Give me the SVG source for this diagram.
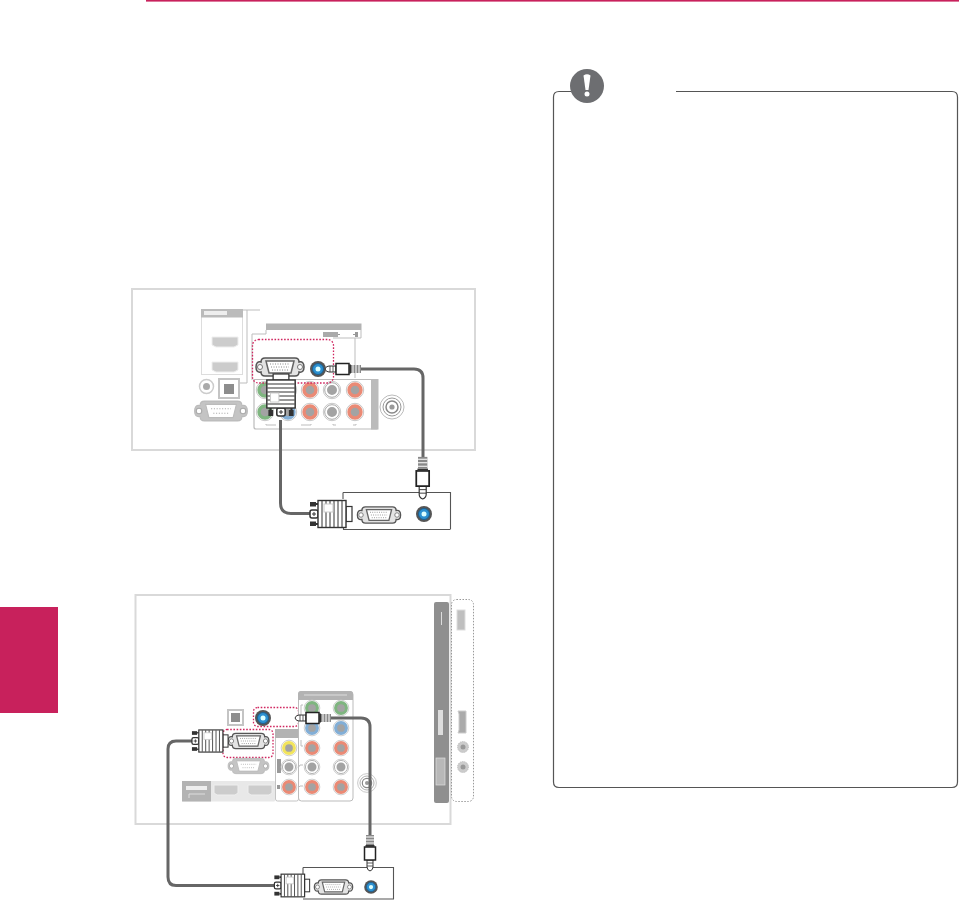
<svg xmlns="http://www.w3.org/2000/svg" width="959" height="900" viewBox="0 0 959 900">
<style>
.pan{fill:#fff;stroke:#d9d9d9;stroke-width:2}
.thin{fill:none;stroke:#bdbdbd;stroke-width:1}
.lt{fill:#fff;stroke:#c4c4c4;stroke-width:1.2}
.gh{fill:#b5b5b5}
.cable{fill:none;stroke:#666;stroke-width:3}
.pink{fill:none;stroke:#d0265f;stroke-width:1.3;stroke-dasharray:1.6 1.6}
.dash{fill:none;stroke:#999;stroke-width:1;stroke-dasharray:1.5 1.5}
.port{fill:#ccc;stroke:#eee;stroke-width:1}
</style>
<defs>
<g id="jack"><circle r="9" fill="#fff" stroke="#c8c8c8" stroke-width="1"/><circle r="6.5" class="jc" fill="none" stroke-width="3.6"/><circle r="2.6" fill="#999"/></g>
<g id="jg"><circle r="8.7" fill="#fff" stroke="#c8c8c8"/><circle r="6" fill="#a3a3a3" stroke="#7fb580" stroke-width="3.4"/></g>
<g id="jb"><circle r="8.7" fill="#fff" stroke="#c8c8c8"/><circle r="6" fill="#a3a3a3" stroke="#82aed6" stroke-width="3.4"/></g>
<g id="jr"><circle r="8.7" fill="#fff" stroke="#c8c8c8"/><circle r="6" fill="#a3a3a3" stroke="#ea8a75" stroke-width="3.4"/></g>
<g id="jw"><circle r="8.7" fill="#fff" stroke="#c8c8c8"/><circle r="6" fill="#a3a3a3" stroke="#fff" stroke-width="2"/><circle r="7.3" fill="none" stroke="#aaa" stroke-width="1"/></g>
<g id="jy"><circle r="8.7" fill="#fff" stroke="#c8c8c8"/><circle r="6" fill="#a3a3a3" stroke="#f2e45c" stroke-width="3.4"/></g>
<g id="coax"><circle r="12" fill="#fff" stroke="#bbb"/><circle r="9" fill="#fff" stroke="#999"/><circle r="6" fill="#fff" stroke="#888" stroke-width="1.5"/><circle r="2.6" fill="#999"/></g>
<g id="blue"><circle r="8" fill="#555"/><circle r="5.5" fill="#2c90d0" stroke="#1d5f8f" stroke-width="1"/><circle r="2.5" fill="#dff"/></g>
<g id="vga">
<path d="M-15-9H15Q19-9 19-5 24-6 24 0 24 6 19 5 19 9 15 9H-15Q-19 9-19 5-24 6-24 0-24-6-19-5-19-9-15-9Z" fill="#e3e3e3" stroke="#555" stroke-width="1.5"/>
<circle cx="-20" r="2.5" fill="#fff" stroke="#777"/><circle cx="20" r="2.5" fill="#fff" stroke="#777"/>
<path d="M-14-6H14L11 6H-11Z" fill="#fff" stroke="#666" stroke-width="1.5"/>
<path d="M-10-3H10M-9 0H9M-8 3H8" stroke="#888" stroke-width="1" stroke-dasharray="1 1.5"/>
</g>
<g id="vgag">
<path d="M-15-9H15Q19-9 19-5 24-6 24 0 24 6 19 5 19 9 15 9H-15Q-19 9-19 5-24 6-24 0-24-6-19-5-19-9-15-9Z" fill="#c4c4c4" stroke="#bbb"/>
<circle cx="-20" r="2.5" fill="#fff" stroke="#aaa"/><circle cx="20" r="2.5" fill="#fff" stroke="#aaa"/>
<path d="M-14-6H14L11 6H-11Z" fill="#fff" stroke="#bbb"/>
<path d="M-9-2H9M-7 2H7" stroke="#aaa" stroke-dasharray="1 1.5"/>
</g>
<g id="vplug">
<rect x="-21" y="-12" width="6" height="4.5" fill="#333"/><rect x="-21" y="7.5" width="6" height="4.5" fill="#333"/>
<path d="M-15-10H-13M-15 10H-13" stroke="#333" stroke-width="2"/>
<rect x="-21" y="-4" width="8" height="8" rx="2" fill="#fff" stroke="#333" stroke-width="1.5"/><path d="M-17-2V2M-19 0H-15" stroke="#333"/>
<rect x="15" y="-7.5" width="6" height="15" fill="#fff" stroke="#333" stroke-width="1.2"/>
<rect x="-13" y="-13.5" width="28" height="27" fill="#fff" stroke="#333" stroke-width="1.4"/>
<path d="M-9-13V13M-5-13V13M-1-13V13M3-13V13M7-13V13M11-13V13" stroke="#333" stroke-width="1"/>
<rect x="-7" y="-10" width="9" height="8" fill="#fff" stroke="#ccc"/>
</g>
<g id="aplug">
<path d="M0 0Q1-3 4-3H11V3H4Q1 3 0 0Z" fill="#fff" stroke="#333" stroke-width="1"/>
<path d="M5-3V3M8-3V3" stroke="#333" stroke-width=".8"/>
<rect x="11" y="-5.5" width="13" height="11" fill="#fff" stroke="#222" stroke-width="1.5"/>
<rect x="24" y="-4.5" width="2" height="9" fill="#333"/>
<rect x="26" y="-4" width="10" height="8" fill="#888"/>
<path d="M28-4V4M31-4V4M34-4V4" stroke="#fff"/>
</g>
</defs>

<rect x="146" y="0" width="813" height="1.6" fill="#c8215c"/>
<rect id="section-tab" x="0" y="607" width="58" height="106" fill="#c8215c"/>

<g id="note-box">
<path d="M571 91.500H559Q553.500 91.500 553.500 97V782Q553.500 787.500 559 787.500H952Q957.500 787.500 957.500 782V97Q957.500 91.500 952 91.500H676" fill="none" stroke="#555" stroke-width="1.2"/>
<circle cx="587" cy="86" r="17" fill="#6d6e71"/>
<path d="M583.500 75.500Q587 73 590.500 75.500L588.500 90H585.500Z" fill="#fff"/>
<circle cx="587" cy="94" r="2.500" fill="#fff"/>
</g>

<g id="tv-panel-top">
<rect class="pan" x="132" y="289" width="343" height="161"/>
<g id="hdmi-block-top">
<rect x="201.500" y="309.500" width="41" height="65" fill="#fff" stroke="#ddd"/>
<rect x="201" y="309" width="42" height="8.500" fill="#bbb"/>
<rect x="204" y="311" width="23" height="4" fill="#eee"/>
<path class="port" d="M212 337H238V345L234 347H216L212 345Z"/>
<path class="port" d="M212 362H238V370L234 372H216L212 370Z"/>
<path class="thin" d="M243 310H260M247 383V310" stroke="#aaa"/>
<path d="M238 383H247" class="thin"/>
</g>
<g id="audio-optical-top">
<circle cx="206.500" cy="386.500" r="7" fill="#fff" stroke="#ccc" stroke-width="1.500"/><circle cx="206.500" cy="386.500" r="3.500" fill="#aaa"/>
<rect x="219" y="379" width="20" height="19" fill="#fff" stroke="#c4c4c4" stroke-width="2"/><rect x="224" y="384" width="10" height="10" fill="#8d8d8d"/>
</g>
<use id="rs232-top" href="#vgag" transform="translate(221 411) scale(1.1)"/>
<g id="component-panel-top">
<path d="M377.500 379.500H254V427Q254 429 256 429H377.500" fill="#fff" stroke="#bbb" stroke-width="1.200"/>
<rect x="371" y="379" width="7.500" height="50.500" fill="#bbb"/>
<use href="#jg" x="265" y="390"/><use href="#jb" x="288" y="390"/><use href="#jr" x="310" y="390"/><use href="#jw" x="332" y="390"/><use href="#jr" x="355" y="390"/>
<use href="#jg" x="265" y="412"/><use href="#jb" x="288" y="412"/><use href="#jr" x="310" y="412"/><use href="#jw" x="332" y="412"/><use href="#jr" x="355" y="412"/>
<path class="thin" d="M266 424V425H276M301 425H311V424M333 424V425H336M353 425H356V424"/>
</g>
<use id="antenna-top" href="#coax" x="392" y="407"/>
<g id="rgb-header-top">
<path d="M266 330V334H252V380M361 330V338H333M355 338V378" class="thin"/>
<rect x="266" y="323.500" width="95.500" height="6.500" fill="#b3b3b3"/>
<rect x="323" y="332" width="15" height="5" fill="#aaa"/><path d="M338 334.500H340M353 334.500H357" stroke="#999"/><rect x="355" y="332" width="3" height="5" fill="#999"/>
</g>
<rect class="pink" x="252.500" y="339.500" width="81" height="43.500" rx="6"/>
<use id="vga-port-top" href="#vga" transform="translate(280 367)"/>
<use id="pc-audio-port-top" href="#blue" x="318" y="369"/>
</g>

<g id="pc-box-top">
<path d="M343 492.500H450.500V529M343 492.500V499M343.500 528V529.500H450.500" fill="#fff" stroke="#555" stroke-width="1.100"/>
<use href="#vga" transform="translate(379 515) scale(.9)"/>
<use href="#blue" x="424" y="514"/>
</g>

<g id="tv-panel-bottom">
<path class="pan" d="M135.500 824V595H450.500V824H135.500Z" stroke-width="1.500"/>
<rect x="434" y="602" width="15" height="201" rx="2" fill="#8f8f8f"/>
<rect x="436" y="758" width="9" height="27" fill="#b8b8b8" stroke="#ddd" stroke-width=".7"/>
<path d="M441.500 612V625" stroke="#ddd"/>
<rect x="438" y="710" width="5" height="25" fill="#ddd"/>
<rect class="dash" x="451.500" y="599.500" width="22" height="202" rx="5"/>
<rect x="457" y="610" width="8" height="20" fill="#bfbfbf" stroke="#ddd"/>
<path d="M458 711H466V733H458L459 730V714Z" fill="#aaa" stroke="#ccc"/>
<circle cx="463" cy="747" r="5.500" fill="#ccc" stroke="#bbb" stroke-dasharray="1 1"/><circle cx="463" cy="747" r="2.500" fill="#999"/>
<circle cx="463" cy="767" r="5.500" fill="#ccc" stroke="#bbb" stroke-dasharray="1 1"/><circle cx="463" cy="767" r="2.500" fill="#999"/>
<g id="optical-bottom">
<rect x="228" y="710" width="15" height="15" fill="#fff" stroke="#c4c4c4" stroke-width="2"/><rect x="231" y="713" width="9" height="9" fill="#8d8d8d"/>
</g>
<rect class="pink" x="253.500" y="707.500" width="45" height="19" rx="4"/>
<use href="#blue" transform="translate(263 718)"/>
<rect class="pink" x="223" y="729.500" width="50" height="28" rx="4"/>
<use href="#vga" transform="translate(248.500 741) scale(.85)"/>
<use href="#vgag" transform="translate(248.500 766) scale(.85)"/>
<g id="av-panel">
<rect x="275.500" y="729.500" width="23" height="71.500" rx="2" fill="#fff" stroke="#c4c4c4"/>
<rect x="275" y="729" width="23.500" height="9" fill="#b3b3b3"/>
<rect x="277" y="759" width="4" height="14" fill="#999"/>
<rect x="277" y="785" width="3" height="4" fill="#999"/>
<use href="#jy" transform="translate(289 748) scale(.9)"/><use href="#jw" transform="translate(289 767) scale(.9)"/><use href="#jr" transform="translate(289 787) scale(.9)"/>
</g>
<g id="component-panel-bottom">
<rect x="298.500" y="691.500" width="54.500" height="109.500" rx="3" fill="#fff" stroke="#bbb"/>
<path d="M298 700V694Q298 691 301 691H350Q353 691 353 694V700Z" fill="#b3b3b3"/>
<path d="M304 695H347" stroke="#ddd"/>
<use href="#jg" transform="translate(312 708) scale(.9)"/><use href="#jg" transform="translate(341 708) scale(.9)"/>
<use href="#jb" transform="translate(312 728) scale(.9)"/><use href="#jb" transform="translate(341 728) scale(.9)"/>
<use href="#jr" transform="translate(312 748) scale(.9)"/><use href="#jr" transform="translate(341 748) scale(.9)"/>
<use href="#jw" transform="translate(312 767) scale(.9)"/><use href="#jw" transform="translate(341 767) scale(.9)"/>
<use href="#jr" transform="translate(312 787) scale(.9)"/><use href="#jr" transform="translate(341 787) scale(.9)"/>
<path class="thin" d="M303 705H301V718M301 740V746H303M303 765H300L298 768M303 786H300L298 788"/>
</g>
<g id="hdmi-block-bottom">
<rect x="182" y="781" width="93" height="20.500" rx="1" fill="#e8e8e8"/>
<rect x="182" y="781" width="29" height="20.500" fill="#b3b3b3"/>
<rect x="186" y="786" width="21" height="4" fill="#eee"/><path d="M189 798V794H205" fill="none" stroke="#ddd"/>
<path class="port" d="M214 785H238V793L235 795H217L214 793Z"/>
<path class="port" d="M248 785H272V793L269 795H251L248 793Z"/>
</g>
<use id="antenna-bottom" href="#coax" transform="translate(367 783) scale(.78)"/>
</g>

<g id="pc-box-bottom">
<path d="M303 867.500H393.500V899H303M303 867.500V874" fill="#fff" stroke="#555" stroke-width="1.100"/>
<use href="#vga" transform="translate(333.500 887) scale(.8)"/>
<use href="#blue" transform="translate(371 887) scale(.85)"/>
</g>

<g id="connectors">
<path class="cable" d="M361 369H414Q423 369 423 378V458"/>
<path class="cable" d="M280.500 420V503Q280.500 513.500 291 513.500H310"/>
<path class="cable" d="M331 718H361Q370 718 370 727V836"/>
<path class="cable" d="M192 741H176Q168 741 168 749V877Q168 885.500 176 885.500H275"/>
</g>

<g id="plugs">
<use id="vga-plug-tv-top" href="#vplug" transform="translate(281 395) rotate(-90) scale(1 1.05)"/>
<use id="vga-plug-pc-top" href="#vplug" transform="translate(331 514)"/>
<use id="audio-plug-tv-top" href="#aplug" transform="translate(325 369)"/>
<use id="audio-plug-pc-top" href="#aplug" transform="translate(422.700 499) rotate(-90) scale(1.17)"/>
<use id="vga-plug-tv-bottom" href="#vplug" transform="translate(210 741) scale(.86 .82)"/>
<use id="vga-plug-pc-bottom" href="#vplug" transform="translate(292 885.500) scale(.84)"/>
<use id="audio-plug-tv-bottom" href="#aplug" transform="translate(295 718)"/>
<use id="audio-plug-pc-bottom" href="#aplug" transform="translate(370 871) rotate(-90)"/>
</g>
</svg>
